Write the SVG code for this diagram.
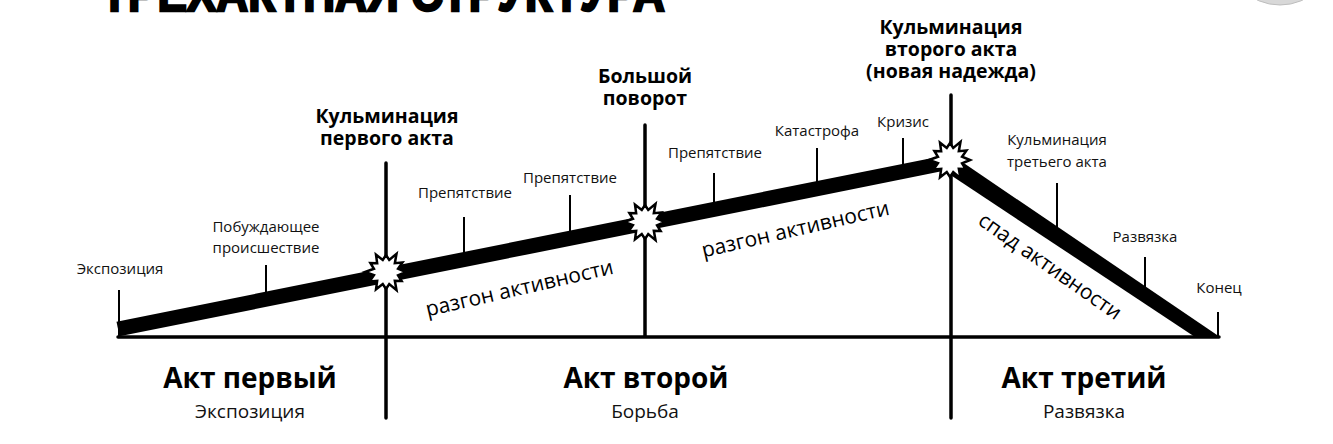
<svg xmlns="http://www.w3.org/2000/svg" width="1333" height="444" viewBox="0 0 1333 444">
<style>
.lbl{font-family:"Open Sans","Noto Sans","DejaVu Sans",sans-serif;font-size:15px;fill:#111;text-anchor:middle}
.bold{font-family:"Open Sans","Noto Sans","DejaVu Sans",sans-serif;font-size:19.5px;font-weight:bold;fill:#000;text-anchor:middle}
.act{font-family:"Open Sans","Noto Sans","DejaVu Sans",sans-serif;font-size:28px;font-weight:bold;fill:#000;text-anchor:middle}
.sub{font-family:"Open Sans","Noto Sans","DejaVu Sans",sans-serif;font-size:19px;fill:#111;text-anchor:middle}
.rot{font-family:"Open Sans","Noto Sans","DejaVu Sans",sans-serif;font-size:21px;fill:#000;text-anchor:middle}
.thin{stroke:#000;stroke-width:2;fill:none}
.axis{stroke:#000;stroke-width:3.5;fill:none;stroke-linecap:round}
.star{fill:#fff;stroke:#000;stroke-width:2.5;stroke-linejoin:miter}
</style>
<defs>
<polygon id="boom" points="20,0 12.07,3.24 15.59,9 8.84,8.84 10.5,18.19 3.24,12.07 0,17 -3.24,12.07 -10,17.32 -8.84,8.84 -16.45,9.5 -12.07,3.24 -21,0 -12.07,-3.24 -15.59,-9 -8.84,-8.84 -10,-17.32 -3.24,-12.07 0,-17 3.24,-12.07 10.5,-18.19 8.84,-8.84 16.45,-9.5 12.07,-3.24"/>
</defs>
<rect width="1333" height="444" fill="#fff"/>
<circle cx="1280" cy="-50" r="55" fill="#d8d8d8" stroke="#bdbdbd" stroke-width="1"/>
<g id="title">
<text x="101" y="11" font-family="Liberation Sans, Arial, sans-serif" font-size="50" font-weight="bold" fill="#000" stroke="#000" stroke-width="2.5" textLength="564" lengthAdjust="spacingAndGlyphs">ТРЕХАКТНАЯ СТРУКТУРА</text>
</g>
<g id="connectors">
<line class="axis" x1="118" y1="337" x2="1219" y2="337"/>
<line class="axis" x1="386" y1="163" x2="386" y2="418"/>
<line class="axis" x1="645" y1="125" x2="645" y2="336"/>
<line class="axis" x1="951" y1="95" x2="951" y2="418"/>
<line class="thin" x1="119" y1="290" x2="119" y2="337"/>
<line class="thin" x1="1218" y1="312" x2="1218" y2="337"/>
<line class="thin" x1="266" y1="265" x2="266" y2="295"/>
<line class="thin" x1="464" y1="217" x2="464" y2="255"/>
<line class="thin" x1="570" y1="195" x2="570" y2="234"/>
<line class="thin" x1="714" y1="173" x2="714" y2="205"/>
<line class="thin" x1="817" y1="148" x2="817" y2="185"/>
<line class="thin" x1="903" y1="138" x2="903" y2="168"/>
<line class="thin" x1="1057" y1="183" x2="1057" y2="228"/>
<line class="thin" x1="1145" y1="257" x2="1145" y2="290"/>
<line x1="118" y1="329" x2="950" y2="162" stroke="#000" stroke-width="15"/>
<polygon points="946,151 1220,337 1195,337 943,170" fill="#000"/>
</g>
<g id="stars">
<use href="#boom" class="star" transform="translate(386,272)"/>
<use href="#boom" class="star" transform="translate(645,222)"/>
<use href="#boom" class="star" transform="translate(950,160)"/>
</g>
<g id="labels">
<text class="lbl" x="120" y="274">Экспозиция</text>
<text class="lbl" x="266" y="232">Побуждающее</text>
<text class="lbl" x="266" y="253">происшествие</text>
<text class="lbl" x="465" y="198">Препятствие</text>
<text class="lbl" x="570" y="183">Препятствие</text>
<text class="lbl" x="715" y="158">Препятствие</text>
<text class="lbl" x="817" y="136">Катастрофа</text>
<text class="lbl" x="903" y="127">Кризис</text>
<text class="lbl" x="1057" y="145">Кульминация</text>
<text class="lbl" x="1057" y="167">третьего акта</text>
<text class="lbl" x="1145" y="242">Развязка</text>
<text class="lbl" x="1219" y="293">Конец</text>
</g>
<g id="milestones">
<text class="bold" x="387" y="123">Кульминация</text>
<text class="bold" x="387" y="145">первого акта</text>
<text class="bold" x="645" y="83">Большой</text>
<text class="bold" x="645" y="105">поворот</text>
<text class="bold" x="951" y="34">Кульминация</text>
<text class="bold" x="951" y="56">второго акта</text>
<text class="bold" x="951" y="78">(новая надежда)</text>
</g>
<g id="phases">
<text class="rot" transform="translate(521,295) rotate(-13)">разгон активности</text>
<text class="rot" transform="translate(797,236) rotate(-13)">разгон активности</text>
<text class="rot" transform="translate(1046,272) rotate(35)">спад активности</text>
</g>
<g id="acts">
<text class="act" x="250" y="388">Акт первый</text>
<text class="sub" x="250" y="418">Экспозиция</text>
<text class="act" x="646" y="388">Акт второй</text>
<text class="sub" x="645" y="418">Борьба</text>
<text class="act" x="1084" y="388">Акт третий</text>
<text class="sub" x="1084" y="418">Развязка</text>
</g>
</svg>
